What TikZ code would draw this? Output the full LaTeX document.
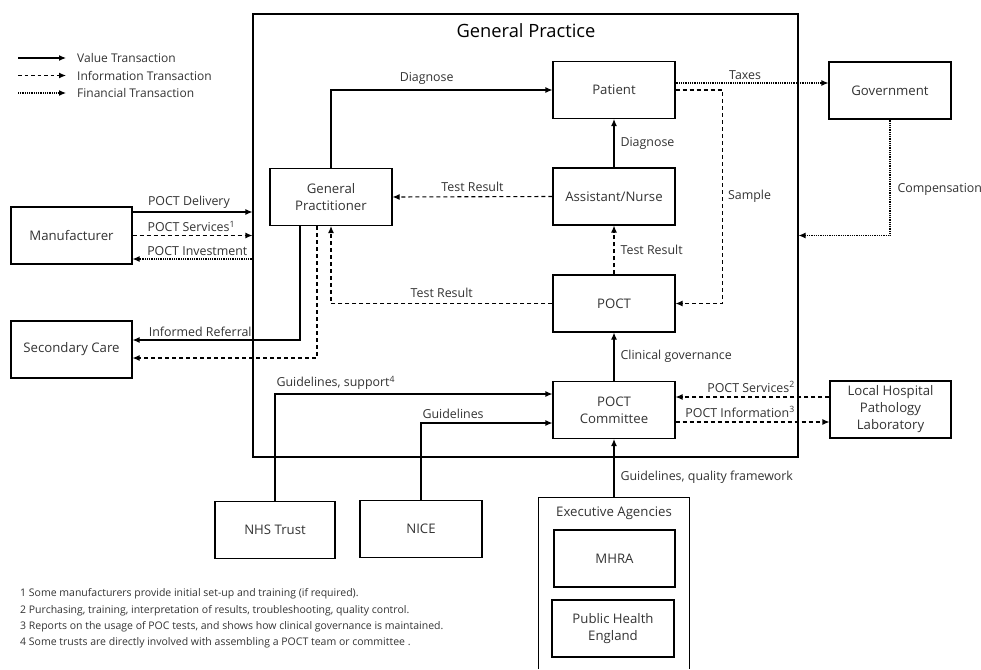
\documentclass[tikz,border=0pt]{standalone}
\usepackage{fontspec}
\setmainfont{Open Sans}
\usetikzlibrary{arrows.meta,calc}
\begin{document}
\begin{tikzpicture}[x=1pt,y=-1pt,
  every node/.append style={text=black!80},
  box/.style={draw=black, line width=1.1pt, minimum width=122pt, minimum height=57pt, align=center, font=\fontsize{13.2}{17}\selectfont, inner sep=2pt},
  lbl/.style={font=\fontsize{12.4}{14}\selectfont, inner sep=1pt},
  leg/.style={font=\fontsize{12}{14}\selectfont, inner sep=1pt, anchor=west},
  note/.style={font=\fontsize{10.5}{12}\selectfont, inner sep=0pt, anchor=west, text height=8pt, text depth=2pt},
  tip/.style={-{Latex[length=7pt,width=6pt]}},
  value/.style={line width=1.1pt, tip},
  info/.style={line width=1.1pt, dash pattern=on 4pt off 3pt, tip},
  fin/.style={line width=1.1pt, dash pattern=on 1pt off 0.8pt, tip},
]
\useasboundingbox (0,0) rectangle (981,669);

% container
\node[draw=black, line width=1.1pt, minimum width=545pt, minimum height=443pt] (gpc) at (525.5,235.5) {};
\node[font=\fontsize{18.3}{21}\selectfont, inner sep=0pt, text=black] (gptitle) at (526,31) {General Practice};

% boxes
\node[box] (patient) at (614,90) {Patient};
\node[box] (govt) at (890,90.5) {Government};
\node[box] (gpr) at (331,197) {General\\Practitioner};
\node[box] (nurse) at (614,196.5) {Assistant/Nurse};
\node[box] (poct) at (614,303.5) {POCT};
\node[box, minimum width=121pt] (manuf) at (71.5,235.5) {Manufacturer};
\node[box, minimum width=121pt] (sec) at (71.5,349.5) {Secondary Care};
\node[box] (comm) at (614,410) {POCT\\Committee};
\node[box, minimum width=121pt] (lab) at (890.5,409.5) {Local Hospital\\Pathology\\Laboratory};
\node[box, minimum width=120pt] (nhs) at (275,530) {NHS Trust};
\node[box] (nice) at (421,529) {NICE};

% executive agencies (open at bottom)
\node[minimum width=150pt, minimum height=171pt, inner sep=0pt] (exec) at (614,583.5) {};
\draw[line width=1.1pt] (exec.south west) -- (exec.north west) -- (exec.north east) -- (exec.south east);
\node[font=\fontsize{13.2}{17}\selectfont, inner sep=0pt] (execlbl) at (614,513) {Executive Agencies};
\node[box, minimum width=121pt] (mhra) at (614.5,558.5) {MHRA};
\node[box] (phe) at (613,628.5) {Public Health\\England};

% connectors inside GP
\draw[value] (gpr.north) |- (patient.west) node[lbl, pos=0.716, above=4pt] (l1) {Diagnose};
\draw[info] (nurse.west) -- (gpr.east) node[lbl, midway, above=4pt] (l2) {Test Result};
\draw[value] (nurse.north) -- (patient.south) node[lbl, midway, right=5pt] (l3) {Diagnose};
\draw[info] (poct.north) -- (nurse.south) node[lbl, midway, right=5pt] (l4) {Test Result};
\draw[info] (poct.west) -| (gpr.south) node[lbl, pos=0.25, above=4pt] (l5) {Test Result};
\coordinate (smp) at ($(patient.east)+(47,0)$);
\draw[info] (patient.east) -- (smp) |- (poct.east) node[lbl, pos=0.25, right=4pt] (l6) {Sample};
\draw[value] (comm.north) -- (poct.south) node[lbl, midway, right=5pt] (l7) {Clinical governance};
\draw[value] (exec.north) -- (comm.south) node[lbl, pos=0.35, right=5pt] (l8) {Guidelines, quality framework};

% taxes / compensation
\coordinate (tx1) at ($(patient.east)+(0,-7)$);
\draw[fin] (tx1) -- (tx1 -| govt.west) node[lbl, pos=0.455, above=2pt] (l9) {Taxes};
\draw[fin] (govt.south) |- (gpc.east) node[lbl, pos=0.3, right=6pt] (l10) {Compensation};

% manufacturer
\coordinate (md1) at ($(manuf.east)+(0,-23.5)$);
\coordinate (md3) at ($(manuf.east)+(0,23.5)$);
\draw[value] (md1) -- (md1 -| gpc.west) node[lbl, pos=0.47, above=2pt] (l11) {POCT Delivery};
\draw[info] (manuf.east) -- (manuf.east -| gpc.west) node[lbl, pos=0.49, above=2pt] (l12) {POCT Services\textsuperscript{1}};
\draw[fin] (md3 -| gpc.west) -- (md3) node[lbl, pos=0.46, above=2pt] (l13) {POCT Investment};

% secondary care
\coordinate (ir1) at ($(gpr.south)+(-31,0)$);
\coordinate (ir2) at ($(gpr.south)+(-14,0)$);
\draw[value] (ir1) |- ($(sec.east)+(0,-9.5)$) node[lbl, pos=0.798, above=2pt] (l14) {Informed Referral};
\draw[info] (ir2) |- ($(sec.east)+(0,8.5)$);

% guidelines
\draw[value] (nhs.north) |- ($(comm.west)+(0,-16)$) node[lbl, pos=0.5, above=3pt, anchor=south west] (l15) {Guidelines, support\textsuperscript{4}};
\draw[value] (nice.north) |- ($(comm.west)+(0,13)$) node[lbl, pos=0.5, above=3pt, anchor=south west] (l16) {Guidelines};

% lab
\coordinate (lb1) at ($(lab.west)+(0,-12.5)$);
\coordinate (lb2) at ($(comm.east)+(0,12)$);
\draw[info] (lb1) -- (lb1 -| comm.east);
\draw[info] (lb2) -- (lb2 -| lab.west);
\node[lbl, anchor=east] (l17) at (796,387) {POCT Services\textsuperscript{2}};
\node[lbl, anchor=east] (l18) at (796,412) {POCT Information\textsuperscript{3}};

% legend
\coordinate (a1) at (18,58); \coordinate (b1) at (66,58);
\coordinate (a2) at (18,75.5); \coordinate (b2) at (66,75.5);
\coordinate (a3) at (18,93); \coordinate (b3) at (66,93);
\draw[value] (a1) -- (b1);
\draw[info, dash pattern=on 3.5pt off 3pt] (a2) -- (b2);
\draw[fin] (a3) -- (b3);
\node[leg] (t1) at (76,58) {Value Transaction};
\node[leg] (t2) at (76,75.5) {Information Transaction};
\node[leg] (t3) at (76,93) {Financial Transaction};

% footnotes
\node[note] (n1) at (20,593) {1 Some manufacturers provide initial set-up and training (if required).};
\node[note] (n2) at (20,610) {2 Purchasing, training, interpretation of results, troubleshooting, quality control.};
\node[note] (n3) at (20,626) {3 Reports on the usage of POC tests, and shows how clinical governance is maintained.};
\node[note] (n4) at (20,642) {4 Some trusts are directly involved with assembling a POCT team or committee .};
\end{tikzpicture}
\end{document}
